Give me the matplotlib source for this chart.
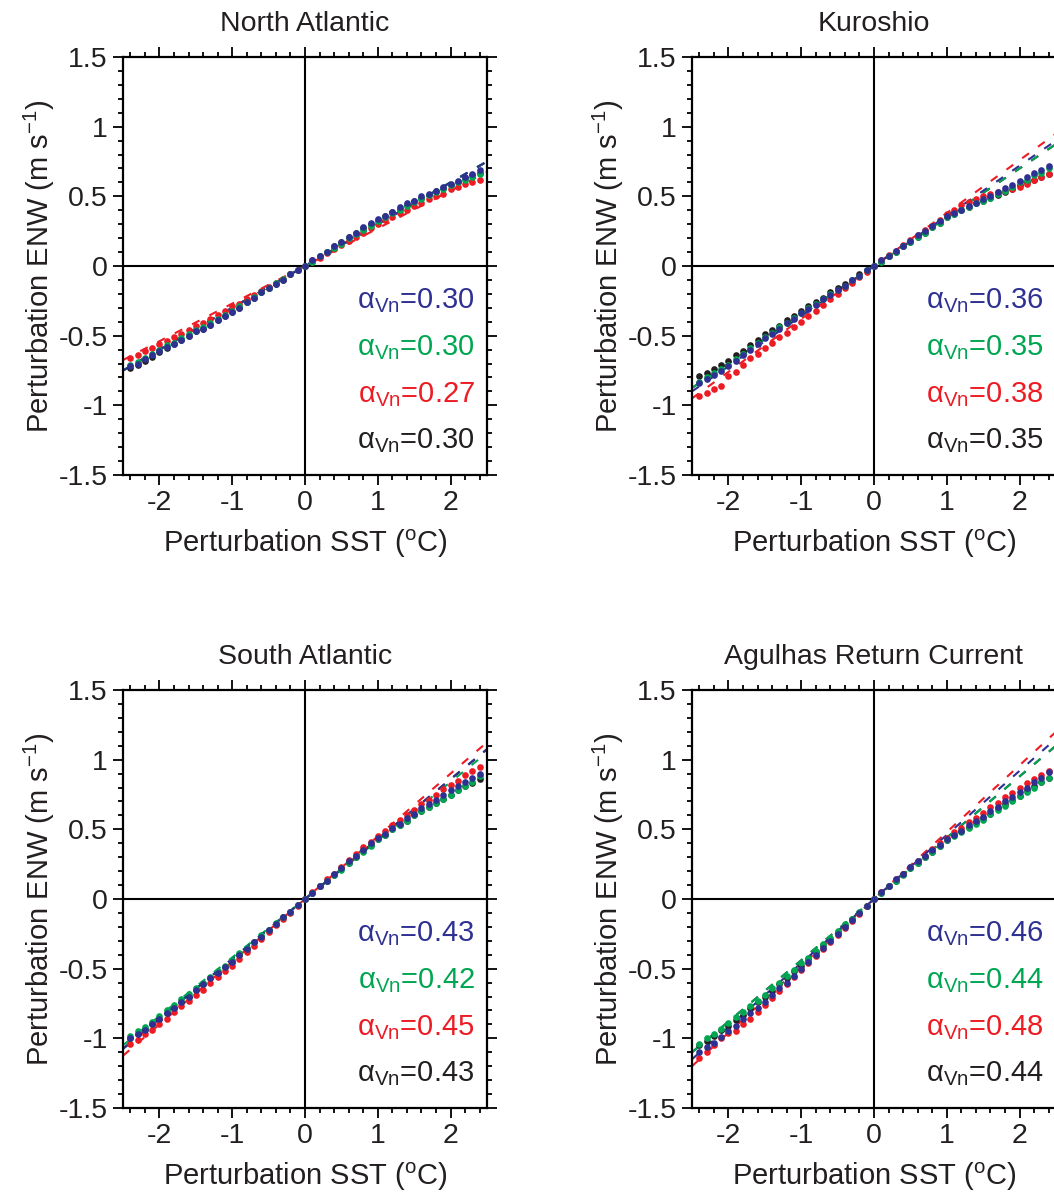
import matplotlib
matplotlib.use("Agg")
import matplotlib.pyplot as plt
from matplotlib.ticker import MultipleLocator, FuncFormatter

plt.rcParams['font.family'] = ['Liberation Sans', 'DejaVu Sans']
plt.rcParams['mathtext.fontset'] = 'custom'
plt.rcParams['mathtext.rm'] = 'Liberation Sans'
plt.rcParams['mathtext.it'] = 'Liberation Sans'
plt.rcParams['axes.unicode_minus'] = False
plt.rcParams['lines.scale_dashes'] = False

TXT = '#231f20'
colors = {'blue': '#2e3192', 'green': '#00a651', 'red': '#ed1c24', 'black': '#231f20'}

# SST bins (deg C)
sst = [-2.4, -2.3, -2.2, -2.1, -2.0, -1.9, -1.8, -1.7, -1.6, -1.5, -1.4, -1.3,
       -1.2, -1.1, -1.0, -0.9, -0.8, -0.7, -0.6, -0.5, -0.4, -0.3, -0.2, -0.1,
       0.0, 0.1, 0.2, 0.3, 0.4, 0.5, 0.6, 0.7, 0.8, 0.9, 1.0, 1.1, 1.2, 1.3,
       1.4, 1.5, 1.6, 1.7, 1.8, 1.9, 2.0, 2.1, 2.2, 2.3, 2.4]

titles = ['North Atlantic', 'Kuroshio', 'South Atlantic', 'Agulhas Return Current']

# regression coefficients (blue, green, red, black)
alpha_na = [0.30, 0.30, 0.27, 0.30]
alpha_ku = [0.36, 0.35, 0.38, 0.35]
alpha_sa = [0.43, 0.42, 0.45, 0.43]
alpha_ag = [0.46, 0.44, 0.48, 0.44]

# binned ENW perturbation (m/s)
na_blue = [-0.72, -0.70, -0.67, -0.64, -0.61, -0.58, -0.56, -0.53, -0.50, -0.47, -0.45, -0.42,
           -0.39, -0.36, -0.33, -0.30, -0.26, -0.23, -0.19, -0.16, -0.13, -0.10, -0.06, -0.03,
           0.00, 0.04, 0.07, 0.10, 0.14, 0.17, 0.21, 0.24, 0.28, 0.31, 0.34, 0.36, 0.39, 0.42,
           0.45, 0.47, 0.50, 0.52, 0.54, 0.57, 0.59, 0.61, 0.64, 0.66, 0.69]
na_green = [-0.71, -0.69, -0.66, -0.63, -0.60, -0.57, -0.55, -0.52, -0.49, -0.46, -0.44, -0.41,
            -0.38, -0.35, -0.32, -0.29, -0.26, -0.22, -0.19, -0.16, -0.12, -0.09, -0.06, -0.03,
            0.00, 0.03, 0.07, 0.10, 0.13, 0.16, 0.20, 0.23, 0.26, 0.29, 0.32, 0.35, 0.38, 0.40,
            0.43, 0.46, 0.48, 0.51, 0.53, 0.55, 0.58, 0.60, 0.62, 0.64, 0.66]
na_red = [-0.66, -0.64, -0.61, -0.59, -0.56, -0.54, -0.51, -0.49, -0.46, -0.43, -0.41, -0.38,
          -0.35, -0.32, -0.29, -0.27, -0.24, -0.21, -0.18, -0.15, -0.12, -0.09, -0.06, -0.03,
          0.00, 0.03, 0.06, 0.09, 0.12, 0.15, 0.18, 0.21, 0.24, 0.27, 0.30, 0.33, 0.35, 0.38,
          0.40, 0.43, 0.45, 0.48, 0.50, 0.52, 0.55, 0.57, 0.59, 0.60, 0.62]
na_black = [-0.73, -0.71, -0.68, -0.65, -0.62, -0.59, -0.56, -0.53, -0.50, -0.47, -0.45, -0.42,
            -0.39, -0.36, -0.33, -0.30, -0.26, -0.23, -0.19, -0.16, -0.13, -0.10, -0.06, -0.03,
            0.00, 0.04, 0.07, 0.10, 0.14, 0.17, 0.21, 0.24, 0.27, 0.30, 0.33, 0.36, 0.39, 0.41,
            0.44, 0.47, 0.49, 0.51, 0.54, 0.56, 0.58, 0.60, 0.63, 0.65, 0.67]

ku_blue = [-0.84, -0.81, -0.78, -0.75, -0.72, -0.68, -0.64, -0.60, -0.56, -0.52, -0.49, -0.45,
           -0.41, -0.38, -0.34, -0.31, -0.28, -0.24, -0.21, -0.17, -0.14, -0.10, -0.07, -0.03,
           0.00, 0.04, 0.07, 0.11, 0.14, 0.18, 0.22, 0.25, 0.29, 0.32, 0.36, 0.38, 0.40, 0.43,
           0.45, 0.48, 0.50, 0.53, 0.56, 0.58, 0.61, 0.64, 0.67, 0.69, 0.72]
ku_green = [-0.83, -0.80, -0.77, -0.74, -0.71, -0.67, -0.63, -0.59, -0.55, -0.51, -0.48, -0.44,
            -0.41, -0.37, -0.34, -0.30, -0.27, -0.24, -0.20, -0.17, -0.14, -0.10, -0.07, -0.03,
            0.00, 0.03, 0.07, 0.10, 0.14, 0.17, 0.21, 0.24, 0.28, 0.31, 0.35, 0.37, 0.40, 0.42,
            0.45, 0.47, 0.49, 0.52, 0.54, 0.57, 0.60, 0.62, 0.65, 0.67, 0.70]
ku_red = [-0.93, -0.91, -0.88, -0.86, -0.79, -0.76, -0.71, -0.66, -0.63, -0.59, -0.55, -0.51,
          -0.48, -0.44, -0.40, -0.36, -0.32, -0.28, -0.24, -0.20, -0.16, -0.12, -0.08, -0.04,
          0.00, 0.04, 0.08, 0.11, 0.15, 0.19, 0.22, 0.26, 0.29, 0.33, 0.37, 0.40, 0.44, 0.46,
          0.48, 0.50, 0.52, 0.53, 0.54, 0.55, 0.57, 0.59, 0.62, 0.64, 0.66]
ku_black = [-0.79, -0.77, -0.74, -0.71, -0.68, -0.64, -0.61, -0.57, -0.53, -0.49, -0.46, -0.43,
            -0.39, -0.36, -0.32, -0.29, -0.26, -0.23, -0.19, -0.16, -0.13, -0.10, -0.06, -0.03,
            0.00, 0.03, 0.07, 0.10, 0.14, 0.17, 0.21, 0.24, 0.28, 0.31, 0.35, 0.37, 0.40, 0.42,
            0.45, 0.47, 0.49, 0.51, 0.53, 0.55, 0.58, 0.60, 0.62, 0.64, 0.66]

sa_blue = [-1.00, -0.97, -0.94, -0.90, -0.86, -0.82, -0.78, -0.74, -0.70, -0.65, -0.61, -0.57,
           -0.53, -0.49, -0.45, -0.40, -0.36, -0.31, -0.27, -0.22, -0.18, -0.13, -0.09, -0.04,
           0.00, 0.04, 0.09, 0.13, 0.18, 0.22, 0.27, 0.31, 0.35, 0.40, 0.44, 0.47, 0.51, 0.54,
           0.58, 0.61, 0.65, 0.68, 0.71, 0.75, 0.78, 0.81, 0.84, 0.87, 0.90]
sa_green = [-0.98, -0.95, -0.92, -0.88, -0.84, -0.80, -0.76, -0.72, -0.68, -0.64, -0.60, -0.56,
            -0.52, -0.48, -0.44, -0.39, -0.35, -0.31, -0.26, -0.22, -0.17, -0.13, -0.09, -0.04,
            0.00, 0.04, 0.09, 0.13, 0.17, 0.21, 0.26, 0.30, 0.34, 0.38, 0.43, 0.46, 0.50, 0.53,
            0.56, 0.60, 0.63, 0.66, 0.69, 0.72, 0.75, 0.78, 0.81, 0.84, 0.88]
sa_red = [-1.04, -1.01, -0.97, -0.94, -0.90, -0.86, -0.81, -0.77, -0.73, -0.69, -0.65, -0.60,
          -0.56, -0.52, -0.48, -0.43, -0.38, -0.34, -0.29, -0.24, -0.19, -0.14, -0.10, -0.05,
          0.00, 0.05, 0.09, 0.14, 0.18, 0.23, 0.28, 0.32, 0.37, 0.41, 0.45, 0.49, 0.53, 0.57,
          0.60, 0.64, 0.68, 0.71, 0.75, 0.79, 0.82, 0.85, 0.89, 0.92, 0.95]
sa_black = [-1.00, -0.97, -0.93, -0.90, -0.86, -0.82, -0.78, -0.74, -0.70, -0.65, -0.61, -0.57,
            -0.53, -0.49, -0.45, -0.40, -0.36, -0.31, -0.27, -0.22, -0.18, -0.13, -0.09, -0.04,
            0.00, 0.04, 0.09, 0.13, 0.17, 0.22, 0.26, 0.30, 0.35, 0.39, 0.43, 0.46, 0.50, 0.53,
            0.56, 0.60, 0.63, 0.66, 0.69, 0.72, 0.75, 0.78, 0.81, 0.83, 0.86]

ag_blue = [-1.10, -1.06, -1.03, -0.99, -0.95, -0.91, -0.86, -0.82, -0.78, -0.74, -0.69, -0.64,
           -0.60, -0.55, -0.50, -0.45, -0.40, -0.35, -0.30, -0.25, -0.20, -0.15, -0.10, -0.05,
           0.00, 0.05, 0.09, 0.14, 0.18, 0.23, 0.27, 0.31, 0.35, 0.39, 0.43, 0.46, 0.49, 0.53,
           0.56, 0.59, 0.63, 0.66, 0.70, 0.73, 0.77, 0.80, 0.84, 0.87, 0.91]
ag_green = [-1.04, -1.00, -0.97, -0.93, -0.89, -0.85, -0.81, -0.77, -0.73, -0.69, -0.64, -0.60,
            -0.55, -0.51, -0.46, -0.42, -0.37, -0.32, -0.28, -0.23, -0.18, -0.14, -0.09, -0.05,
            0.00, 0.04, 0.09, 0.13, 0.17, 0.22, 0.26, 0.30, 0.34, 0.38, 0.42, 0.45, 0.48, 0.51,
            0.54, 0.57, 0.61, 0.64, 0.67, 0.70, 0.74, 0.77, 0.80, 0.84, 0.87]
ag_red = [-1.14, -1.10, -1.05, -1.00, -0.96, -0.95, -0.90, -0.86, -0.81, -0.76, -0.71, -0.66,
          -0.61, -0.56, -0.51, -0.46, -0.41, -0.36, -0.31, -0.26, -0.21, -0.16, -0.11, -0.05,
          0.00, 0.05, 0.09, 0.14, 0.18, 0.23, 0.27, 0.31, 0.36, 0.40, 0.44, 0.48, 0.51, 0.55,
          0.58, 0.62, 0.66, 0.69, 0.73, 0.76, 0.80, 0.83, 0.86, 0.89, 0.92]
ag_black = [-1.05, -1.02, -0.98, -0.94, -0.91, -0.87, -0.83, -0.78, -0.74, -0.70, -0.66, -0.61,
            -0.57, -0.52, -0.48, -0.43, -0.38, -0.33, -0.29, -0.24, -0.19, -0.14, -0.10, -0.05,
            0.00, 0.04, 0.09, 0.13, 0.18, 0.22, 0.26, 0.30, 0.34, 0.38, 0.42, 0.46, 0.49, 0.52,
            0.55, 0.58, 0.61, 0.65, 0.68, 0.71, 0.74, 0.78, 0.81, 0.84, 0.87]

panels = [
    (titles[0], alpha_na, [na_blue, na_green, na_red, na_black]),
    (titles[1], alpha_ku, [ku_blue, ku_green, ku_red, ku_black]),
    (titles[2], alpha_sa, [sa_blue, sa_green, sa_red, sa_black]),
    (titles[3], alpha_ag, [ag_blue, ag_green, ag_red, ag_black]),
]
names = ['blue', 'green', 'red', 'black']

W, H = 1054, 1194
fig = plt.figure(figsize=(W / 100, H / 100), dpi=100)

# axes boxes in pixels: left, top
boxes = [(123, 57), (692, 57), (123, 690), (692, 690)]
aw, ah = 364, 418

fmt = FuncFormatter(lambda v, p: '%g' % v)

for (left, top), (title, alphas, series) in zip(boxes, panels):
    ax = fig.add_axes([left / W, 1 - (top + ah) / H, aw / W, ah / H])
    ax.set_xlim(-2.5, 2.5)
    ax.set_ylim(-1.5, 1.5)

    ax.axhline(0, color='black', lw=1.5, zorder=1)
    ax.axvline(0, color='black', lw=1.5, zorder=1)

    xl = [-2.5, 2.5]
    # fitted lines, y = alpha * SST
    for name, a in zip(names[::-1], alphas[::-1]):
        ax.plot(xl, [a * xl[0], a * xl[1]], color=colors[name], lw=1.5,
                linestyle=(0, (6, 8)), zorder=2)
    # binned points, black underneath, blue on top
    for name, ys in zip(names[::-1], series[::-1]):
        ax.plot(sst, ys, 'o', color=colors[name], ms=4.8, mew=0, zorder=3)

    for k, (name, a) in enumerate(zip(names, alphas)):
        ax.text(2.33, -0.30 - 0.337 * k, r'$\mathrm{\alpha_{Vn}}$=%.2f' % a,
                color=colors[name], fontsize=21, ha='right', va='baseline')

    ax.text(0.5, 1.078, title, transform=ax.transAxes, ha='center', va='center',
            fontsize=20.5, color=TXT)
    ax.set_xlabel(r'Perturbation SST ($^{\mathrm{o}}$C)', fontsize=21, color=TXT, labelpad=8)
    ax.set_ylabel(r'Perturbation ENW (m s$^{\mathrm{-1}}$)', fontsize=21, color=TXT, labelpad=1)

    ax.xaxis.set_major_locator(MultipleLocator(1))
    ax.xaxis.set_minor_locator(MultipleLocator(0.2))
    ax.yaxis.set_major_locator(MultipleLocator(0.5))
    ax.yaxis.set_minor_locator(MultipleLocator(0.1))
    ax.xaxis.set_major_formatter(fmt)
    ax.yaxis.set_major_formatter(fmt)
    ax.tick_params(which='both', direction='out', top=True, right=True, width=1.3,
                   colors='black', labelcolor=TXT, labelsize=20.5)
    ax.tick_params(which='major', length=7, pad=4)
    ax.tick_params(which='minor', length=3.5)
    for s in ax.spines.values():
        s.set_linewidth(1.6)

fig.savefig('out.png', dpi=100)
